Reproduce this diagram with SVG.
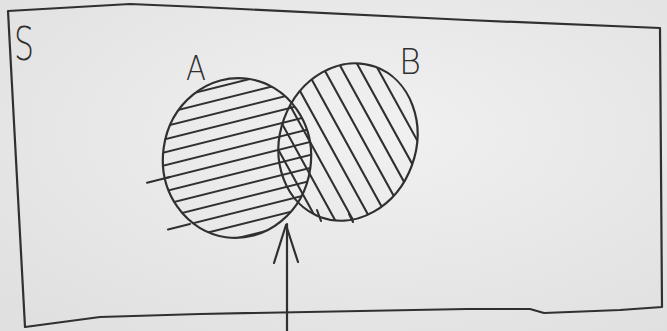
<svg xmlns="http://www.w3.org/2000/svg" width="667" height="331" viewBox="0 0 667 331">
<style>
.ink{fill:none;stroke:#303030;stroke-width:2.2;stroke-linecap:round;stroke-linejoin:round}
.h{stroke:#303030;stroke-width:2.1;stroke-linecap:round;fill:none}
.lbl{font-family:"DejaVu Sans","Liberation Sans",sans-serif;fill:#303030;font-weight:300}
</style>
<defs>
<radialGradient id="paper" cx="0.55" cy="0.4" r="0.75">
<stop offset="0" stop-color="#f1f1f1"/>
<stop offset="1" stop-color="#e0e0e0"/>
</radialGradient>
<clipPath id="cA"><ellipse cx="237" cy="158" rx="74" ry="80" transform="rotate(8 237 158)"/></clipPath>
<clipPath id="cB"><ellipse cx="348" cy="142" rx="68" ry="80" transform="rotate(20 348 142)"/></clipPath>
</defs>
<rect width="667" height="331" fill="url(#paper)"/>
<g id="S">
<path class="ink" d="M8,11 L130,4 L200,7 L467,20 L660,28 L662,307 L620,310 L544,313 L530,309 L467,309 L200,314 L100,317 L25,327 L8,11"/>
<text class="lbl" x="14" y="60" font-size="46" textLength="20" lengthAdjust="spacingAndGlyphs">S</text>
</g>
<g id="A">
<g clip-path="url(#cA)">
<path class="h" d="M150,104 L330,59 M150,117 L330,72 M150,130 L330,85 M150,143 L330,98 M150,156 L330,111 M150,169 L330,124 M150,182 L330,137 M150,195 L330,150 M150,208 L330,163 M150,221 L330,176 M150,234 L330,189 M150,247 L330,202 M150,260 L330,215 M150,273 L330,228"/>
</g>
<path class="h" d="M147,182.75 L170,177 M168,229.5 L190,224"/>
<ellipse class="ink" cx="237" cy="158" rx="74" ry="80" transform="rotate(8 237 158)"/>
<text class="lbl" x="186" y="80" font-size="34" textLength="20" lengthAdjust="spacingAndGlyphs">A</text>
</g>
<g id="B">
<g clip-path="url(#cB)">
<path class="h" d="M200,40 L310,240 M218,40 L328,240 M236,40 L346,240 M254,40 L364,240 M272,40 L382,240 M290,40 L400,240 M308,40 L418,240 M326,40 L436,240 M344,40 L454,240 M362,40 L472,240 M380,40 L490,240"/>
</g>
<path class="h" d="M317,210 L321,221 M349,214 L353,222"/>
<ellipse class="ink" cx="348" cy="142" rx="68" ry="80" transform="rotate(20 348 142)"/>
<text class="lbl" x="399" y="74" font-size="36" textLength="22" lengthAdjust="spacingAndGlyphs">B</text>
</g>
<g id="connectors">
<line class="ink" x1="287" y1="331" x2="287" y2="224"/>
<polyline class="ink" points="274,263 286,225 298,262"/>
</g>
</svg>
